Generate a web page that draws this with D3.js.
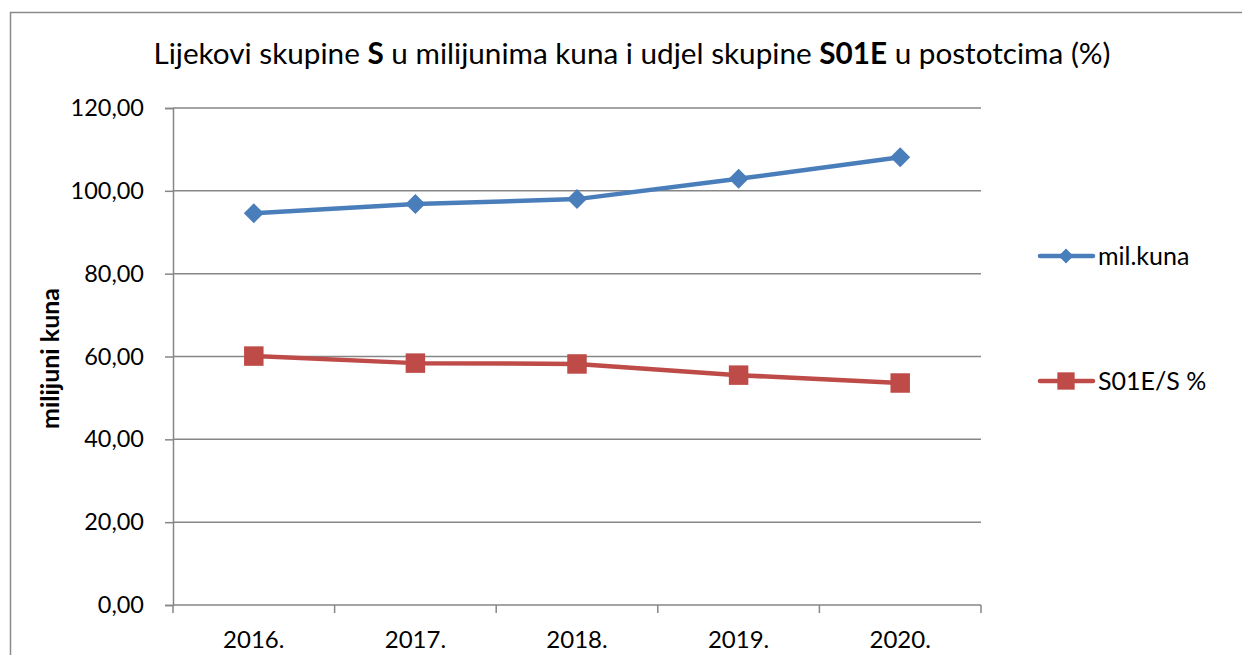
<!DOCTYPE html>
<html>
<head>
<meta charset="utf-8">
<script src="https://cdn.jsdelivr.net/npm/d3@7"></script>
<style>
  html, body { margin: 0; padding: 0; background: #fff; }
  svg { display: block; font-family: Lato, "Open Sans", sans-serif; }
</style>
</head>
<body>
<svg id="chart" width="1242" height="655"></svg>
<script>
// Drug group S expenditure (million kuna) and S01E share (%)
const years = ["2016.", "2017.", "2018.", "2019.", "2020."];
const milKuna = [94.6, 96.8, 98.0, 102.9, 108.1];
const s01eShare = [60.1, 58.4, 58.2, 55.5, 53.6];
const yTicks = [0, 20, 40, 60, 80, 100, 120];
const seriesNames = ["mil.kuna", "S01E/S %"];
const seriesColors = ["#4a7ebb", "#be4b48"];

const svg = d3.select("#chart");
const W = 1242, H = 655;
const plot = { left: 173, right: 981, top: 108, bottom: 605 };
const gridColor = "#868686";

// Outer chart frame (left and top edges visible)
svg.append("path")
  .attr("d", `M10.5,${H} L10.5,12.5 L${W},12.5`)
  .attr("fill", "none").attr("stroke", "#8a8a8a").attr("stroke-width", 1.5);

// Title with bold group codes
const title = svg.append("text")
  .attr("x", 632).attr("y", 64)
  .attr("text-anchor", "middle")
  .attr("font-size", 29.7).attr("fill", "#000");
[["Lijekovi skupine ", false], ["S", true], [" u milijunima kuna i udjel skupine ", false],
 ["S01E", true], [" u postotcima (%)", false]].forEach(([t, b]) => {
  title.append("tspan").attr("font-weight", b ? 700 : 400).text(t);
});

const x = d3.scaleBand().domain(years).range([plot.left, plot.right]).paddingInner(0).paddingOuter(0);
const y = d3.scaleLinear().domain([0, 120]).range([plot.bottom, plot.top]);

// Horizontal gridlines
svg.append("g").selectAll("line")
  .data(yTicks.filter(d => d > 0))
  .join("line")
  .attr("x1", plot.left).attr("x2", plot.right)
  .attr("y1", d => y(d)).attr("y2", d => y(d))
  .attr("stroke", gridColor).attr("stroke-width", 1.5);

// Y axis
const fmt = d => d.toFixed(2).replace(".", ",");
const yAxis = svg.append("g")
  .attr("transform", `translate(${plot.left},0)`)
  .call(d3.axisLeft(y).tickValues(yTicks).tickFormat(fmt).tickSize(8).tickPadding(21));
yAxis.select(".domain").attr("stroke", gridColor).attr("stroke-width", 1.5);
yAxis.selectAll(".tick line").attr("stroke", gridColor).attr("stroke-width", 1.5);
yAxis.selectAll(".tick text").attr("font-size", 23.5).attr("fill", "#000")
  .attr("font-family", "Lato, 'Open Sans', sans-serif");

// X axis with ticks at category boundaries
const xAxis = svg.append("g").attr("transform", `translate(0,${plot.bottom})`);
xAxis.append("line")
  .attr("x1", plot.left).attr("x2", plot.right)
  .attr("stroke", gridColor).attr("stroke-width", 1.5);
const bounds = years.map(d => x(d)).concat([x(years[years.length - 1]) + x.bandwidth()]);
xAxis.selectAll("line.tk").data(bounds).join("line").attr("class", "tk")
  .attr("x1", d => d).attr("x2", d => d).attr("y1", 0).attr("y2", 8)
  .attr("stroke", gridColor).attr("stroke-width", 1.5);
xAxis.selectAll("text").data(years).join("text")
  .attr("x", d => x(d) + x.bandwidth() / 2).attr("y", 43)
  .attr("text-anchor", "middle").attr("font-size", 24).attr("fill", "#000")
  .text(d => d);

// Y axis title
svg.append("text")
  .attr("transform", `translate(59,${(plot.top + plot.bottom) / 2 + 2}) rotate(-90)`)
  .attr("text-anchor", "middle").attr("font-size", 25).attr("font-weight", 700)
  .attr("fill", "#000").text("milijuni kuna");

const cx = d => x(d) + x.bandwidth() / 2;
const line = d3.line().x(d => cx(d[0])).y(d => y(d[1]));
const series = [milKuna, s01eShare];

series.forEach((vals, i) => {
  const pts = years.map((yr, j) => [yr, vals[j]]);
  svg.append("path").datum(pts)
    .attr("d", line).attr("fill", "none")
    .attr("stroke", seriesColors[i]).attr("stroke-width", 4.5)
    .attr("stroke-linejoin", "round").attr("stroke-linecap", "round");
});
// Markers: diamonds for million kuna, squares for share
svg.append("g").selectAll("path").data(years.map((yr, j) => [yr, milKuna[j]])).join("path")
  .attr("transform", d => `translate(${cx(d[0])},${y(d[1])}) rotate(45)`)
  .attr("d", d3.symbol().type(d3.symbolSquare).size(200)())
  .attr("fill", seriesColors[0]);
svg.append("g").selectAll("path").data(years.map((yr, j) => [yr, s01eShare[j]])).join("path")
  .attr("transform", d => `translate(${cx(d[0])},${y(d[1])})`)
  .attr("d", d3.symbol().type(d3.symbolSquare).size(380)())
  .attr("fill", seriesColors[1]);

// Legend
const legendY = [256, 381];
const lg = svg.append("g");
seriesNames.forEach((name, i) => {
  const g = lg.append("g").attr("transform", `translate(0,${legendY[i]})`);
  g.append("line").attr("x1", 1040).attr("x2", 1093)
    .attr("stroke", seriesColors[i]).attr("stroke-width", 4.5).attr("stroke-linecap", "round");
  if (i === 0) {
    g.append("path").attr("transform", "translate(1066,0) rotate(45)")
      .attr("d", d3.symbol().type(d3.symbolSquare).size(110)()).attr("fill", seriesColors[i]);
  } else {
    g.append("path").attr("transform", "translate(1066,0)")
      .attr("d", d3.symbol().type(d3.symbolSquare).size(300)()).attr("fill", seriesColors[i]);
  }
  g.append("text").attr("x", 1098).attr("y", 9)
    .attr("font-size", 25).attr("fill", "#000").text(name);
});
</script>
</body>
</html>
